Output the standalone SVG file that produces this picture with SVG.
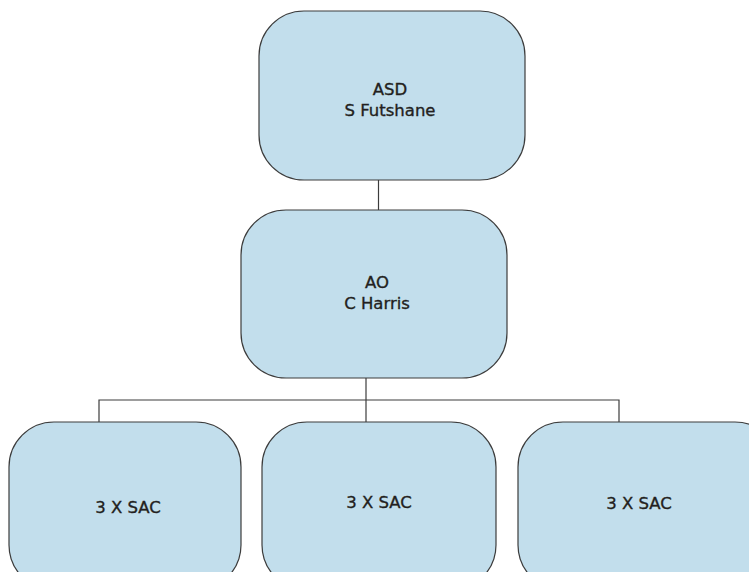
<svg xmlns="http://www.w3.org/2000/svg" width="749" height="572" viewBox="0 0 749 572">
  <style>
    .box { fill: #c2deec; stroke: #3c3c3c; stroke-width: 1.2; }
    .lbl { font-family: "DejaVu Sans", "Liberation Sans", sans-serif; font-size: 16.5px; fill: #231f20; stroke: #231f20; stroke-width: 0.35; text-anchor: middle; }
    .wire { fill: none; stroke: #3c3c3c; stroke-width: 1.2; }
  </style>
  <rect width="749" height="572" fill="#ffffff"/>

  <!-- connectors -->
  <g id="connectors">
    <line class="wire" x1="378.5" y1="180" x2="378.5" y2="210"/>
    <line class="wire" x1="366" y1="378" x2="366" y2="422"/>
    <polyline class="wire" points="99,422 99,400 619,400 619,422"/>
  </g>

  <g id="node-asd">
    <rect class="box" x="259" y="11" width="266" height="169" rx="45" ry="45"/>
    <text class="lbl" x="390" y="95">ASD</text>
    <text class="lbl" x="390" y="116">S Futshane</text>
  </g>

  <g id="node-ao">
    <rect class="box" x="241" y="210" width="266" height="168" rx="45" ry="45"/>
    <text class="lbl" x="377" y="288">AO</text>
    <text class="lbl" x="377" y="309">C Harris</text>
  </g>

  <g id="node-sac-1">
    <rect class="box" x="9" y="422" width="232" height="168" rx="45" ry="45"/>
    <text class="lbl" x="128" y="513">3 X SAC</text>
  </g>

  <g id="node-sac-2">
    <rect class="box" x="262" y="422" width="234" height="168" rx="45" ry="45"/>
    <text class="lbl" x="379" y="508">3 X SAC</text>
  </g>

  <g id="node-sac-3">
    <rect class="box" x="518" y="422" width="262" height="168" rx="45" ry="45"/>
    <text class="lbl" x="639" y="509">3 X SAC</text>
  </g>
</svg>
